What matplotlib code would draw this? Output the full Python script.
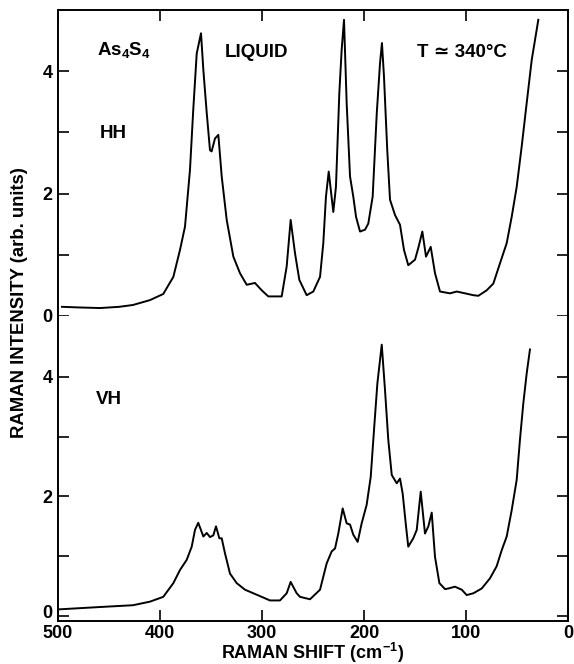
import matplotlib
matplotlib.use("Agg")
import matplotlib.pyplot as plt
from matplotlib.ticker import FixedLocator, FuncFormatter
from matplotlib.transforms import ScaledTranslation

plt.rcParams['font.family'] = ['Liberation Sans', 'DejaVu Sans']
plt.rcParams['font.weight'] = 'bold'
plt.rcParams['mathtext.fontset'] = 'custom'
plt.rcParams['mathtext.rm'] = 'Liberation Sans:bold'
plt.rcParams['mathtext.it'] = 'Liberation Sans:bold'
plt.rcParams['mathtext.bf'] = 'Liberation Sans:bold'

# HH spectrum (Raman shift cm^-1, intensity arb. units)
hh_shift = [496.1, 480, 458.8, 440, 426.5, 409.8, 396.8, 386.9, 380.4, 375.5, 370.6, 367.4,
            364.0, 359.8, 357.5, 354.2, 351.0, 349.4, 346.1, 342.8, 339.5, 334.6, 328.1,
            321.6, 315.0, 306.9, 300.3, 293.8, 287.3, 280.7, 275.8, 271.9, 267.6, 263.4,
            256.2, 249.7, 243.1, 239.9, 237.3, 234.6, 230.1, 227.5, 224.2, 221.9, 219.6,
            217.0, 213.7, 210.5, 207.8, 203.9, 199.0, 195.8, 191.5, 187.5, 184.3, 182.4,
            180.4, 177.2, 174.5, 169.6, 164.7, 160.8, 156.6, 150.0, 146.8, 142.8, 139.2,
            134.6, 130.4, 125.5, 115.7, 109.1, 100.9, 92.8, 87.9, 79.7, 73.2, 66.7, 60.1,
            55.2, 50.3, 45.4, 40.5, 35.6, 29.1]
hh_int = [0.15, 0.14, 0.13, 0.15, 0.18, 0.26, 0.36, 0.64, 1.08, 1.46, 2.39, 3.37,
          4.29, 4.62, 4.02, 3.32, 2.71, 2.69, 2.90, 2.96, 2.28, 1.57, 0.97,
          0.70, 0.51, 0.54, 0.42, 0.32, 0.32, 0.32, 0.81, 1.57, 1.02, 0.59,
          0.34, 0.40, 0.64, 1.19, 1.95, 2.36, 1.70, 2.11, 3.64, 4.35, 4.84,
          3.48, 2.28, 1.95, 1.62, 1.38, 1.41, 1.51, 1.95, 3.31, 4.13, 4.46,
          3.91, 2.71, 1.90, 1.65, 1.49, 1.08, 0.83, 0.92, 1.11, 1.38, 0.97,
          1.13, 0.70, 0.40, 0.37, 0.40, 0.37, 0.34, 0.33, 0.42, 0.53, 0.86, 1.19,
          1.62, 2.11, 2.77, 3.48, 4.18, 4.84]

# VH spectrum
vh_shift = [500.0, 458.8, 426.5, 409.8, 396.8, 386.9, 380.4, 373.8, 368.9, 365.7, 362.5,
            357.5, 354.2, 351.0, 347.7, 345.1, 341.8, 339.5, 336.3, 331.4, 324.8, 316.7,
            308.5, 300.3, 292.2, 282.4, 275.8, 271.9, 266.0, 262.7, 252.9, 243.1, 236.6,
            231.7, 228.4, 225.2, 220.9, 217.0, 213.7, 210.5, 206.2, 202.3, 197.4, 193.4,
            190.2, 186.9, 182.6, 179.4, 176.2, 172.8, 167.9, 164.7, 162.1, 158.8, 156.6,
            151.7, 148.3, 144.4, 140.2, 136.9, 133.6, 130.4, 126.1, 120.6, 117.3, 110.8,
            104.2, 99.3, 92.8, 84.6, 76.5, 70.0, 65.0, 60.1, 55.2, 50.3, 47.1, 43.8,
            40.5, 37.3]
vh_int = [0.11, 0.15, 0.18, 0.24, 0.32, 0.55, 0.77, 0.94, 1.16, 1.44, 1.56,
          1.33, 1.39, 1.32, 1.35, 1.50, 1.30, 1.30, 1.05, 0.71, 0.55, 0.44,
          0.38, 0.32, 0.26, 0.26, 0.38, 0.57, 0.38, 0.32, 0.28, 0.44, 0.88,
          1.08, 1.13, 1.38, 1.80, 1.55, 1.53, 1.36, 1.24, 1.55, 1.86, 2.33,
          3.11, 3.89, 4.54, 3.78, 2.95, 2.36, 2.22, 2.30, 2.05, 1.50, 1.16,
          1.30, 1.44, 2.08, 1.38, 1.50, 1.73, 0.99, 0.55, 0.45, 0.46, 0.49,
          0.44, 0.35, 0.38, 0.46, 0.63, 0.83, 1.10, 1.33, 1.77, 2.28, 2.95, 3.56,
          4.06, 4.46]

y_ticks = [0, 1, 2, 3, 4]
y_labeled = [0, 2, 4]
x_ticks = [500, 400, 300, 200, 100, 0]

W, H = 574, 664
fig = plt.figure(figsize=(W / 100, H / 100), dpi=100)
L, R = 58 / W, 568 / W
ax1 = fig.add_axes([L, 1 - 316 / H, R - L, 306 / H])
ax2 = fig.add_axes([L, 1 - 621 / H, R - L, 305 / H])

lw = 1.4
for ax in (ax1, ax2):
    ax.set_xlim(500, 0)
    for s in ax.spines.values():
        s.set_linewidth(lw)
    ax.yaxis.set_major_locator(FixedLocator(y_ticks))
    ax.yaxis.set_major_formatter(FuncFormatter(lambda v, p: f"{int(round(v))}" if int(round(v)) in y_labeled else ""))
    ax.xaxis.set_major_locator(FixedLocator(x_ticks))
    ax.tick_params(axis='y', direction='in', length=8, width=1.2, left=True, right=True,
                   labelsize=13, pad=4)
    ax.tick_params(axis='x', direction='in', length=8, width=1.2, labelsize=13, pad=3)

ax1.plot(hh_shift, hh_int, color='black', lw=lw)
ax2.plot(vh_shift, vh_int, color='black', lw=lw)

ax1.set_ylim(0, 5.0)
ax2.set_ylim(-0.084, 5.02)
ax1.spines['bottom'].set_visible(False)
ax2.spines['top'].set_visible(False)
ax1.tick_params(axis='x', top=True, bottom=False, labelbottom=False)
ax2.tick_params(axis='x', top=False, bottom=True)

for lab in ax1.get_yticklabels() + ax2.get_yticklabels() + ax2.get_xticklabels():
    lab.set_fontweight('bold')

tkw = dict(fontsize=13.5, fontweight='bold', va='center', ha='left')
ax1.text(461.8, 4.35, r'As$_4$S$_4$', **tkw)
ax1.text(336.3, 4.31, 'LIQUID', **tkw)
ax1.text(148, 4.31, 'T ≃ 340°C', **tkw)
ax1.text(458.8, 2.99, 'HH', **tkw)
ax2.text(462.7, 3.62, 'VH', **tkw)

fig.text((L + R) / 2, 1 - 659 / H, r'RAMAN SHIFT (cm$^{-1}$)', ha='center', va='baseline',
         fontsize=13, fontweight='bold')
fig.text(20 / W, 1 - 303 / H, 'RAMAN INTENSITY (arb. units)', ha='center', va='center',
         rotation=90, fontsize=13.3, fontweight='bold')

# nudge the bottom panel's "0" label up slightly, as in the original
fig.canvas.draw()
zero_lab = ax2.yaxis.get_major_ticks()[0].label1
zero_lab.set_transform(zero_lab.get_transform() + ScaledTranslation(0, 3 / 72, fig.dpi_scale_trans))

fig.savefig('out.png', dpi=100, facecolor='white')
